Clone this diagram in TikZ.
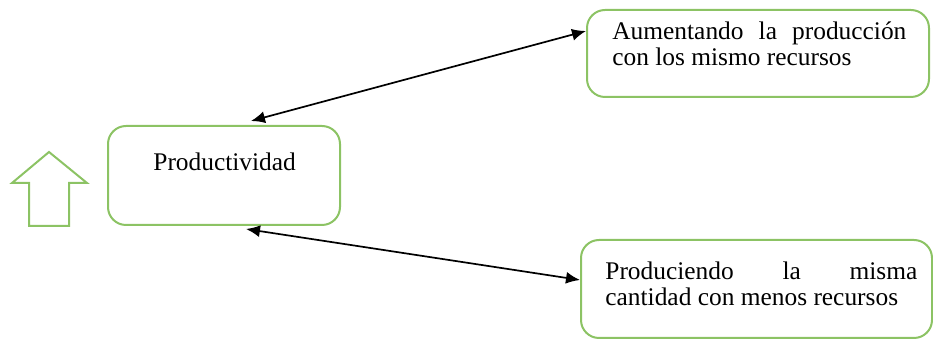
\documentclass[tikz,border=0pt]{standalone}
\usepackage{fontspec}
\setmainfont{Liberation Serif}
\usetikzlibrary{arrows.meta}
\definecolor{boxgreen}{RGB}{140,195,100}
\tikzset{
  roundbox/.style={draw=boxgreen, line width=1pt, rounded corners=9pt, inner sep=0pt},
  boxtext/.style={anchor=base west, inner sep=0pt},
  link/.style={line width=0.85pt, {Latex[length=7pt,width=6pt]}-{Latex[length=7pt,width=6pt]}}
}
\begin{document}
\begin{tikzpicture}[x=0.5pt, y=-0.5pt]
\useasboundingbox (0,0) rectangle (933,341);

% boxes
\node[roundbox, minimum width=116pt, minimum height=49.5pt] (prod) at (224,175.5) {};
\node[roundbox, minimum width=171pt, minimum height=43.5pt] (top) at (758,53.5) {};
\node[roundbox, minimum width=175.5pt, minimum height=49pt] (bot) at (756.5,289) {};

% texts
\node[boxtext, font=\fontsize{12.7}{13}\selectfont] (prodtext) at (153,171) {Productividad};
\node[boxtext, font=\fontsize{12.7}{11.5}\selectfont] (toptext) at (612,40)
  {\parbox[t]{147pt}{\makebox[147pt][s]{Aumentando la producción}\\con los mismo recursos}};
\node[boxtext, font=\fontsize{12.7}{13}\selectfont] (bottext) at (605,280)
  {\parbox[t]{156pt}{\makebox[156pt][s]{Produciendo la misma}\\cantidad con menos recursos}};

% connectors
\draw[link] ([xshift=72pt,yshift=2pt]prod.north west) -- ([yshift=11.25pt]top.west);
\draw[link] ([xshift=69.5pt,yshift=-1.5pt]prod.south west) -- ([yshift=4.5pt]bot.west);

% outlined up arrow
\draw[boxgreen, line width=1pt, line join=miter]
  (49,152) -- (87,183) -- (69,183) -- (69,226) -- (29,226) -- (29,183) -- (12,183) -- cycle;
\end{tikzpicture}
\end{document}
